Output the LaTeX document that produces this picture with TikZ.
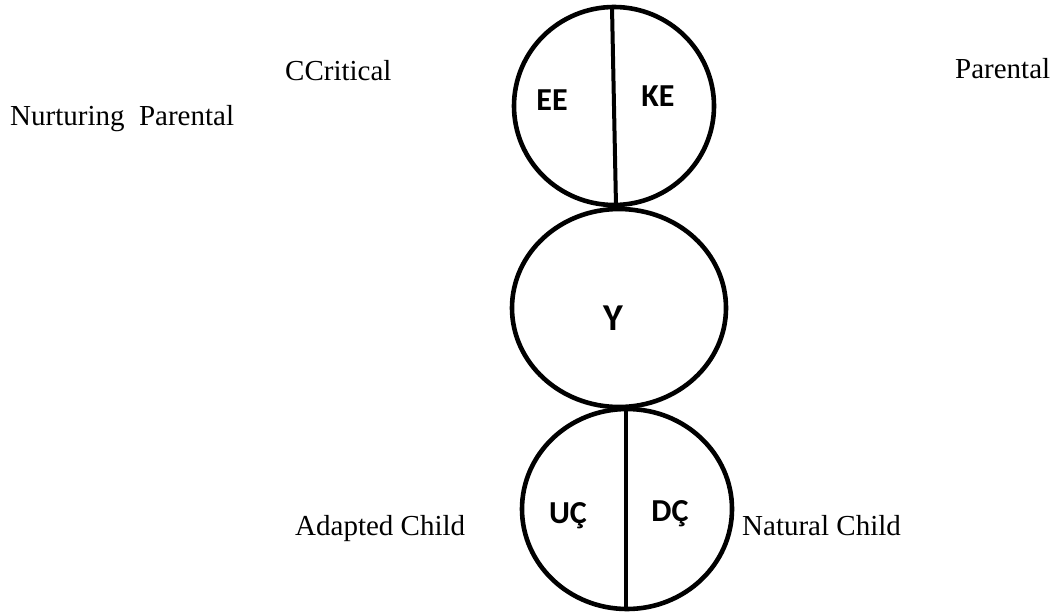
\documentclass[tikz,border=0pt]{standalone}
\usepackage{fontspec}
\setmainfont{Liberation Serif}
\newfontfamily\lblfont{Carlito}
\usetikzlibrary{shapes.geometric}
\begin{document}
\begin{tikzpicture}[x=1pt,y=-1pt,
  ring/.style={draw=black,line width=4.6pt,ellipse,inner sep=0pt},
  divider/.style={draw=black,line width=4pt},
  inlabel/.style={font=\lblfont\bfseries\fontsize{32}{32}\selectfont,inner sep=0pt},
  biglabel/.style={font=\lblfont\bfseries\fontsize{38}{38}\selectfont,inner sep=0pt},
  outlabel/.style={font=\fontsize{29}{29}\selectfont,inner sep=0pt,anchor=base west}]
\useasboundingbox (0,0) rectangle (1054,613);
% circles
\node[ring,minimum width=200pt,minimum height=198pt] (top) at (614,106) {};
\node[ring,minimum width=214pt,minimum height=198pt] (mid) at (619,308) {};
\node[ring,minimum width=210pt,minimum height=200pt] (bot) at (627,509) {};
% dividers
\coordinate (t1) at (612,7);
\coordinate (t2) at (616,206);
\draw[divider] (t1) -- (t2);
\coordinate (b1) at (626,409);
\coordinate (b2) at (626,610);
\draw[divider] (b1) -- (b2);
% inner labels
\node[inlabel] (ee) at (552,100) {EE};
\node[inlabel] (ke) at (658,96) {KE};
\node[biglabel,anchor=base] (y) at (613,330) {Y};
\node[inlabel,anchor=base] (uc) at (568,523) {UÇ};
\node[inlabel,anchor=base] (dc) at (670,521) {DÇ};
% outer labels
\node[outlabel] (cc) at (285,80) {CCritical};
\node[outlabel] (pr) at (955,78) {Parental};
\node[outlabel] (np) at (10,125) {Nurturing\ \ Parental};
\node[outlabel] (ac) at (295,535) {Adapted Child};
\node[outlabel] (nc) at (742,535) {Natural Child};
\end{tikzpicture}
\end{document}
